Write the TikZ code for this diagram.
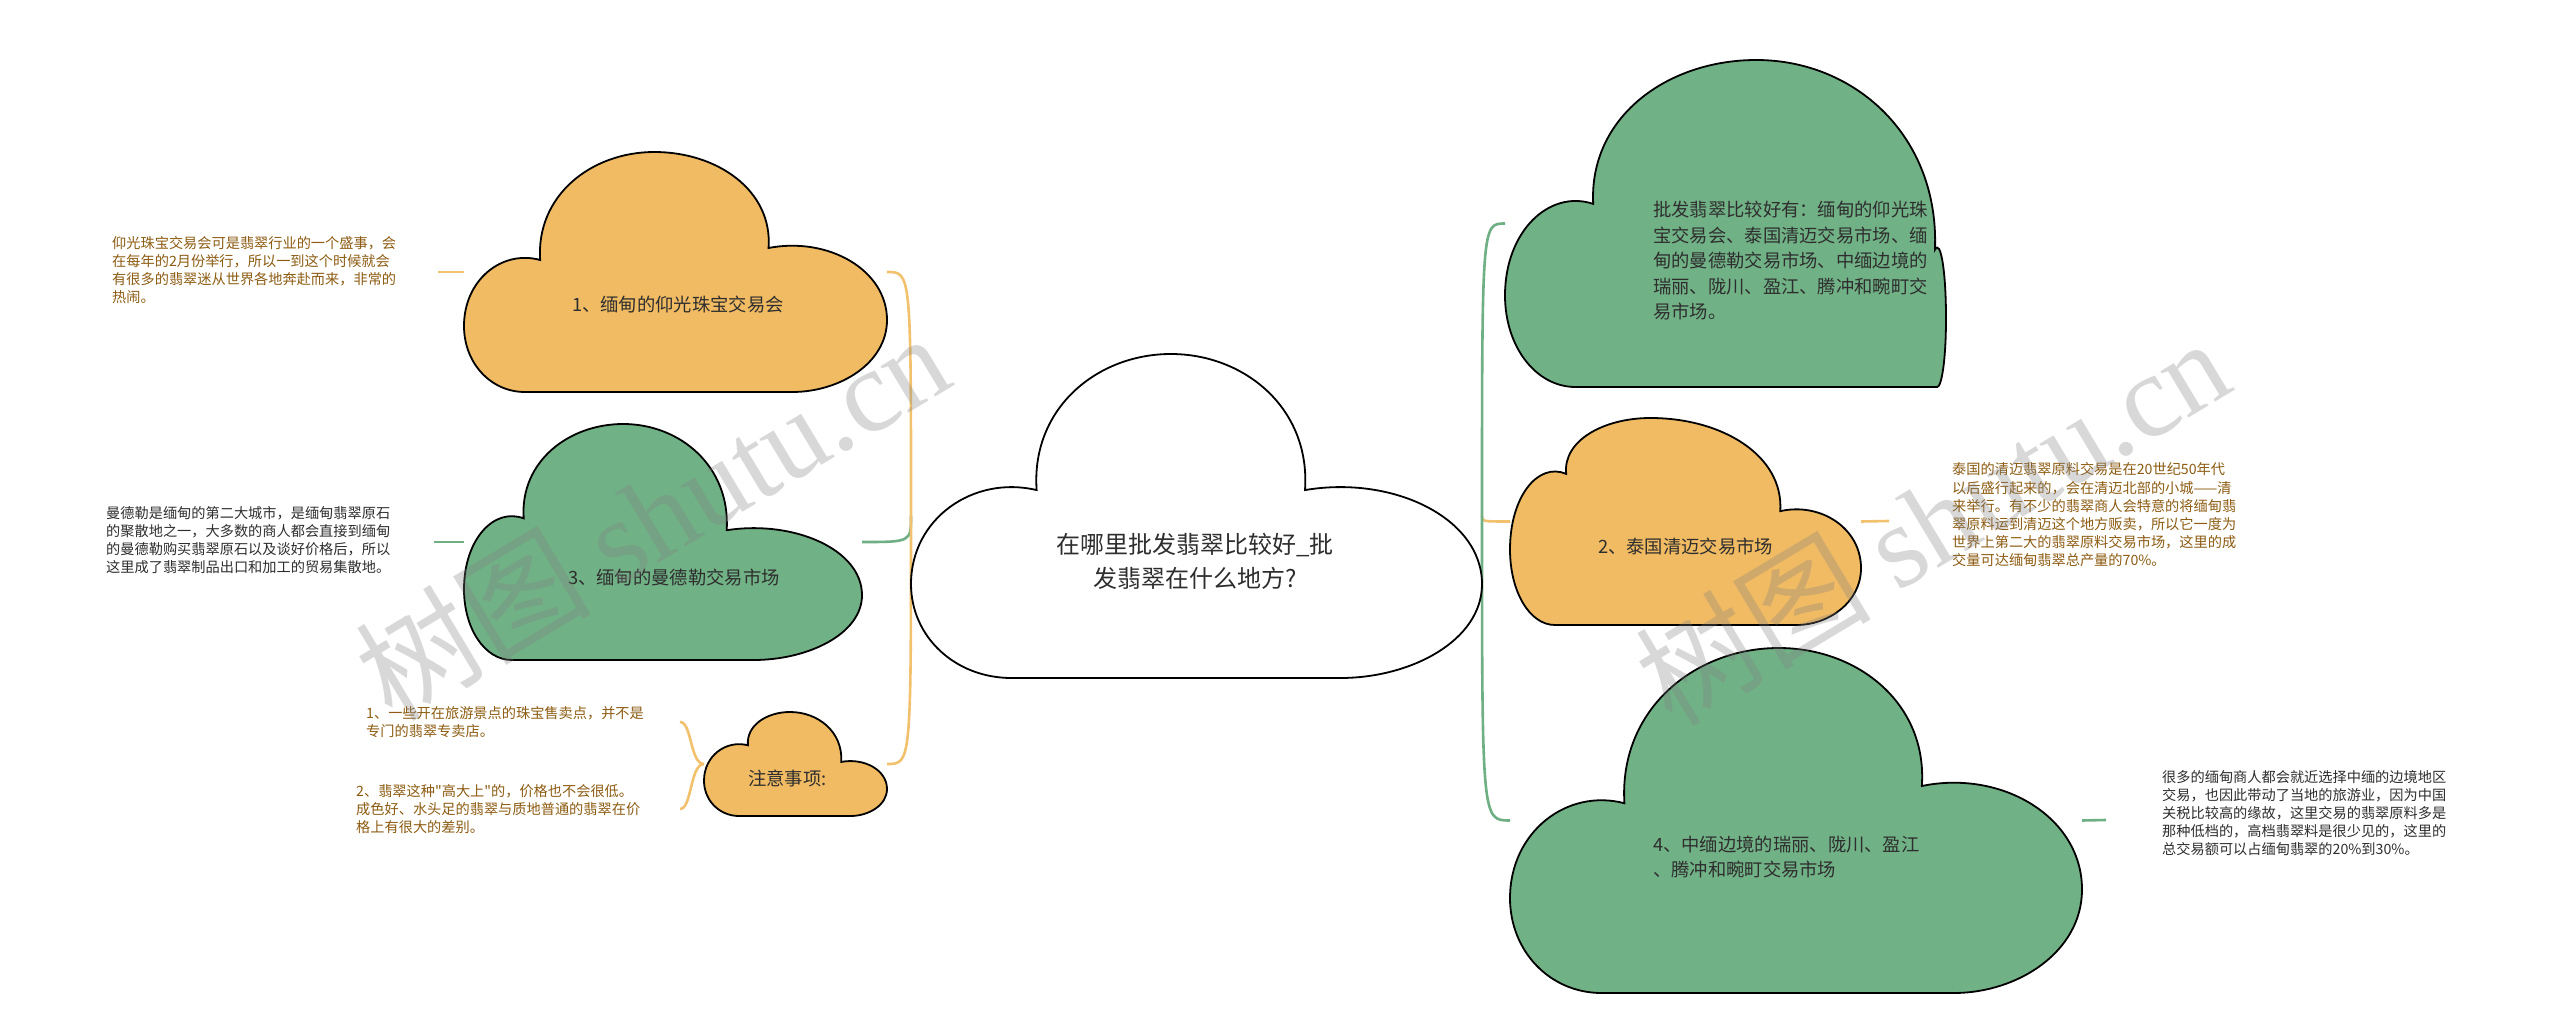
\documentclass[tikz,border=0pt]{standalone}
\usepackage{fontspec}
\newfontfamily\cjk{Noto Sans CJK SC}
\newfontfamily\wmserif{Liberation Serif}
\usetikzlibrary{calc}
\pgfdeclarelayer{bg}
\pgfsetlayers{bg,main}
\definecolor{orangefill}{HTML}{F0BB63}
\definecolor{greenfill}{HTML}{71B186}
\definecolor{olinecol}{HTML}{F2C16E}
\definecolor{glinecol}{HTML}{6FAF84}
\definecolor{browntext}{HTML}{8D5C12}
\definecolor{darktext}{HTML}{2E2E2E}
\tikzset{
  cbox/.style={inner sep=0pt, outer sep=0pt, draw=none},
  cloudline/.style={draw=black, line width=1.8pt},
  oconn/.style={draw=olinecol, line width=2.6pt},
  gconn/.style={draw=glinecol, line width=2.6pt},
  ttl/.style={font=\cjk\fontsize{24}{34}\selectfont, text=darktext, align=center, inner sep=0pt},
  ntxt/.style={font=\cjk\fontsize{18.3}{25}\selectfont, text=darktext, align=left, inner sep=0pt, anchor=west},
  dtxt/.style={font=\cjk\fontsize{14.2}{18.2}\selectfont, align=left, inner sep=0pt, anchor=west},
  wm/.style={font=\cjk\fontsize{118}{118}\selectfont, text=gray, text opacity=0.3, inner sep=0pt, rotate=31},
}
\newcommand\cloudpar[5]{\def\cloudA{#1}\def\cloudB{#2}\def\cloudL{#3}\def\cloudR{#4}\def\cloudP{#5}}
\newcommand\cloudshape[5]{%
  \path[cloudline, fill=#5, shift={(#1,#4)}, xscale={#3-#1}, yscale={-(#4-#2)}]
   ({0.8*\cloudA},0) .. controls ({0.35*\cloudA},0) and (0,{0.22*\cloudL}) .. (0,{0.5*\cloudL})
   .. controls (0,{0.85*\cloudL}) and ({0.5*\cloudA},{1.08*\cloudL}) .. (\cloudA,\cloudL)
   .. controls ({\cloudA-0.01},{\cloudL+0.6*(1-\cloudL)}) and ({\cloudP-0.55*(\cloudP-\cloudA)},1) .. (\cloudP,1)
   .. controls ({\cloudP+0.55*(\cloudB-\cloudP)},1) and ({\cloudB+0.01},{\cloudR+0.6*(1-\cloudR)}) .. (\cloudB,\cloudR)
   .. controls ({\cloudB+0.5*(1-\cloudB)},{1.08*\cloudR}) and (1,{0.85*\cloudR}) .. (1,{0.5*\cloudR})
   .. controls (1,{0.2*\cloudR}) and ({1-0.4*(1-\cloudB)},0) .. ({1-0.8*(1-\cloudB)},0) -- cycle;
}
\newcommand\cloudnode[6]{%
  \node[cbox, minimum width={#4pt-#2pt}, minimum height={#5pt-#3pt}] (#1) at ({(#2+#4)/2},{(#3+#5)/2}) {};
  \cloudshape{#2}{#3}{#4}{#5}{#6}%
}
\begin{document}
\begin{tikzpicture}[x=1pt,y=-1pt]
\useasboundingbox (0,0) rectangle (2560,1035);

% clouds
\cloudpar{0.22}{0.69}{0.58}{0.58}{0.455}
\cloudnode{c0}{911}{354}{1482}{678}{white}
\cloudpar{0.18}{0.72}{0.55}{0.6}{0.45}
\cloudnode{c1}{464}{152}{887}{392}{orangefill}
\cloudpar{0.15}{0.66}{0.6}{0.55}{0.4}
\cloudnode{c3}{464}{424}{862}{660}{greenfill}
\cloudpar{0.24}{0.75}{0.68}{0.52}{0.47}
\cloudnode{cz}{704}{712}{887}{816}{orangefill}
\cloudpar{0.2}{0.975}{0.56}{0.42}{0.57}
\cloudnode{c5}{1505}{60}{1946}{387}{greenfill}
\cloudpar{0.16}{0.77}{0.73}{0.55}{0.4}
\cloudnode{c2}{1510}{418}{1861}{625}{orangefill}
\cloudpar{0.2}{0.72}{0.55}{0.6}{0.47}
\cloudnode{c4}{1510}{648}{2082}{993}{greenfill}

% texts in clouds
\node[ttl] (t0) at (1195,561) {在哪里批发翡翠比较好\_批\\发翡翠在什么地方?};
\node[ntxt] (t1) at (572,305) {1、缅甸的仰光珠宝交易会};
\node[ntxt] (t3) at (568,578) {3、缅甸的曼德勒交易市场};
\node[ntxt] (tz) at (748,778) {注意事项:};
\node[ntxt, font=\cjk\fontsize{18.3}{25.5}\selectfont] (t5) at (1653,261) {批发翡翠比较好有：缅甸的仰光珠\\宝交易会、泰国清迈交易市场、缅\\甸的曼德勒交易市场、中缅边境的\\瑞丽、陇川、盈江、腾冲和畹町交\\易市场。};
\node[ntxt] (t2) at (1598,547) {2、泰国清迈交易市场};
\node[ntxt] (t4) at (1653,857) {4、中缅边境的瑞丽、陇川、盈江\\、腾冲和畹町交易市场};

% detail texts
\node[dtxt, text=browntext] (d1) at (112,270) {仰光珠宝交易会可是翡翠行业的一个盛事，会\\在每年的2月份举行，所以一到这个时候就会\\有很多的翡翠迷从世界各地奔赴而来，非常的\\热闹。};
\node[dtxt, text=darktext] (d3) at (106,540) {曼德勒是缅甸的第二大城市，是缅甸翡翠原石\\的聚散地之一，大多数的商人都会直接到缅甸\\的曼德勒购买翡翠原石以及谈好价格后，所以\\这里成了翡翠制品出口和加工的贸易集散地。};
\node[dtxt, text=browntext] (n1) at (366,722) {1、一些开在旅游景点的珠宝售卖点，并不是\\专门的翡翠专卖店。};
\node[dtxt, text=browntext] (n2) at (356,809) {2、翡翠这种"高大上"的，价格也不会很低。\\成色好、水头足的翡翠与质地普通的翡翠在价\\格上有很大的差别。};
\node[dtxt, text=browntext] (d2) at (1952,515) {泰国的清迈翡翠原料交易是在20世纪50年代\\以后盛行起来的，会在清迈北部的小城——清\\来举行。有不少的翡翠商人会特意的将缅甸翡\\翠原料运到清迈这个地方贩卖，所以它一度为\\世界上第二大的翡翠原料交易市场，这里的成\\交量可达缅甸翡翠总产量的70\%。};
\node[dtxt, text=darktext] (d4) at (2162,813) {很多的缅甸商人都会就近选择中缅的边境地区\\交易，也因此带动了当地的旅游业，因为中国\\关税比较高的缘故，这里交易的翡翠原料多是\\那种低档的，高档翡翠料是很少见的，这里的\\总交易额可以占缅甸翡翠的20\%到30\%。};

% free ends of the short detail links
\coordinate (e1) at (438,272);
\coordinate (e3) at (434,542);
\coordinate (e2) at (1889,521);
\coordinate (e4) at (2106,820);
\coordinate (b1) at (680,722);
\coordinate (b2) at (680,809);

\begin{pgfonlayer}{bg}
\fill[white] (0,0) rectangle (2560,1035);
\draw[oconn] (c0.west) .. controls (c0.west |- c1.east) .. (c1.east);
\draw[gconn] (c0.west) .. controls (c0.west |- c3.east) .. (c3.east);
\draw[oconn] (c0.west) .. controls (c0.west |- cz.east) .. (cz.east);
\draw[gconn] (c0.east) .. controls (c0.east |- c5.west) .. (c5.west);
\draw[oconn] (c0.east) .. controls (c0.east |- c2.west) .. (c2.west);
\draw[gconn] (c0.east) .. controls (c0.east |- c4.west) .. (c4.west);
\draw[oconn] (c1.west) -- (e1);
\draw[gconn] (c3.west) -- (e3);
\draw[oconn] (c2.east) -- (e2);
\draw[gconn] (c4.east) -- (e4);
\draw[oconn] (cz.west) .. controls ($(cz.west)+(-14,0)$) and ($(b1)+(12,0)$) .. (b1);
\draw[oconn] (cz.west) .. controls ($(cz.west)+(-14,0)$) and ($(b2)+(12,0)$) .. (b2);
\end{pgfonlayer}

% watermarks
\node[wm] (w1) at (652,515) {树图 {\wmserif shutu.cn}};
\node[wm] (w2) at (1932,520) {树图 {\wmserif shutu.cn}};
\end{tikzpicture}
\end{document}
